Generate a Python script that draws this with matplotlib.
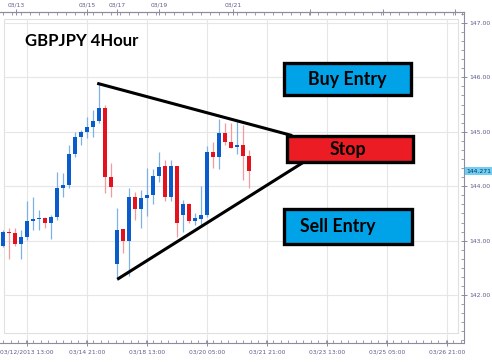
import matplotlib
matplotlib.use('Agg')
import matplotlib.pyplot as plt
from matplotlib.patches import Rectangle
from matplotlib.ticker import FixedLocator, MultipleLocator, AutoMinorLocator
import matplotlib.transforms as mtransforms

# GBPJPY 4-hour candles
opens = [142.90, 143.16, 143.14, 142.94, 143.07, 143.37, 143.39, 143.42, 143.33, 143.43,
         143.97, 144.02, 144.59, 144.91, 144.99, 145.09, 145.19, 145.43, 144.17, 142.58,
         143.21, 143.00, 143.81, 143.58, 143.79, 143.83, 144.19, 144.37, 143.80, 144.37,
         143.47, 143.67, 143.37, 143.40, 143.48, 144.63, 144.54, 144.98, 144.82, 144.72,
         144.76, 144.56]
highs = [143.20, 143.23, 143.23, 143.20, 143.73, 143.80, 143.56, 143.44, 143.47, 144.27,
         144.24, 144.76, 145.00, 145.03, 145.28, 145.40, 145.89, 145.49, 144.43, 143.60,
         143.21, 143.96, 143.90, 143.93, 144.33, 144.31, 144.62, 144.49, 144.49, 144.37,
         143.75, 143.70, 143.50, 144.00, 144.73, 144.82, 145.23, 145.17, 145.17, 145.19,
         145.13, 144.67]
lows = [142.88, 142.66, 142.90, 142.66, 143.01, 143.20, 143.20, 143.24, 143.03, 143.38,
        143.81, 143.97, 144.54, 144.76, 144.89, 144.91, 145.16, 143.88, 143.80, 142.28,
        142.77, 142.35, 143.38, 143.23, 143.45, 143.67, 144.08, 143.72, 143.72, 143.07,
        143.16, 143.32, 143.29, 143.26, 143.44, 144.33, 144.31, 144.76, 144.70, 144.60,
        144.11, 143.96]
closes = [143.16, 143.14, 142.94, 143.07, 143.37, 143.40, 143.42, 143.33, 143.43, 143.97,
          144.02, 144.59, 144.91, 144.99, 145.09, 145.19, 145.43, 144.17, 143.99, 143.20,
          143.00, 143.81, 143.58, 143.79, 143.83, 144.19, 144.36, 143.81, 144.37, 143.32,
          143.67, 143.37, 143.41, 143.48, 144.63, 144.54, 144.97, 144.82, 144.71, 144.76,
          144.56, 144.271]
last_price = 144.271

# time axis labels (bar index positions)
bottom_ticks = [4, 14, 24, 34, 44, 54, 64, 74]
bottom_labels = ['03/12/2013 13:00', '03/14 21:00', '03/18 13:00', '03/20 05:00',
                 '03/21 21:00', '03/23 13:00', '03/25 05:00', '03/26 21:00']
top_ticks = [2.2, 14, 19, 26, 38.3, 51.2, 63.3, 75.3]
top_labels = ['03/13', '03/15', '03/17', '03/19', '03/21', '', '', '']
price_ticks = [142, 143, 144, 145, 146, 147]

# triangle trendlines
upper_x = [15.7, 48.2]
upper_y = [145.89, 144.93]
lower_x = [19.05, 50.5]
lower_y = [142.29, 144.47]

W, H = 492, 362
fig = plt.figure(figsize=(W / 100, H / 100), dpi=100)
fig.patch.set_facecolor('white')


def fx(px):
    return px / W


def fy(py):
    return 1 - py / H


ax = fig.add_axes([0, fy(343), fx(464), (343 - 12) / H])
ax.set_xlim(-0.5, 76.83)
ax.set_ylim(141.12, 147.20)

axis_col = '#8c8ca0'
lab_col = '#5c5c8c'
for s in ['top', 'bottom', 'right']:
    ax.spines[s].set_color(axis_col)
    ax.spines[s].set_linewidth(0.8)
ax.spines['left'].set_visible(False)

# inner frame and grid
ax.add_patch(Rectangle((4 / 464, 0.030), (458 - 4) / 464, 0.979 - 0.030,
                       transform=ax.transAxes, fill=False, edgecolor='#e0e0e0',
                       linewidth=0.8, zorder=0))
ax.hlines(price_ticks, 0.17, 75.83, color='#e6e6e6', linewidth=0.8, zorder=0)
ax.vlines(bottom_ticks, 141.12, 147.2 - 7 / 54.4, color='#e6e6e6', linewidth=0.8, zorder=0)

# candles
up_body, up_wick = '#0a5ccc', '#7fb0e6'
dn_body, dn_wick = '#e4121c', '#f29a9e'
for i in range(len(opens)):
    o, h, l, c = opens[i], highs[i], lows[i], closes[i]
    up = c >= o
    ax.vlines(i, l, h, color=up_wick if up else dn_wick, linewidth=0.9, zorder=2)
    ax.bar(i, max(abs(c - o), 0.02), bottom=min(o, c), width=0.62,
           color=up_body if up else dn_body, linewidth=0, zorder=3)

# trendlines
ax.plot(upper_x, upper_y, color='black', linewidth=2.2, solid_capstyle='butt', zorder=4)
ax.plot(lower_x, lower_y, color='black', linewidth=2.2, solid_capstyle='butt', zorder=4)

# right price axis
ax.yaxis.tick_right()
ax.yaxis.set_major_locator(FixedLocator(price_ticks))
ax.yaxis.set_minor_locator(AutoMinorLocator(6))
ax.set_yticklabels(['%.2f' % p for p in price_ticks])
ax.tick_params(axis='y', which='major', direction='inout', length=5, width=0.7,
               color=axis_col, labelsize=4.4, labelcolor=lab_col, pad=1)
ax.tick_params(axis='y', which='minor', direction='in', length=2.5, width=0.6, color=axis_col)

# bottom time axis
ax.set_xticks(bottom_ticks)
ax.set_xticklabels(bottom_labels)
ax.xaxis.set_minor_locator(MultipleLocator(1.25))
ax.tick_params(axis='x', which='major', direction='inout', length=5, width=0.7,
               color=axis_col, labelsize=4.3, labelcolor=lab_col, pad=2)
ax.tick_params(axis='x', which='minor', direction='in', length=2.5, width=0.6, color=axis_col)

# top date axis
top = ax.twiny()
top.set_xlim(ax.get_xlim())
top.set_xticks(top_ticks)
top.set_xticklabels(top_labels)
top.xaxis.set_minor_locator(MultipleLocator(1.5))
top.tick_params(axis='x', which='major', direction='inout', length=5, width=0.7,
                color=axis_col, labelsize=4.3, labelcolor=lab_col, pad=1)
top.tick_params(axis='x', which='minor', direction='in', length=2.5, width=0.6, color=axis_col)
for s in ['left', 'right', 'bottom']:
    top.spines[s].set_visible(False)
top.spines['top'].set_color(axis_col)

# last price marker
trans = mtransforms.blended_transform_factory(ax.transAxes, ax.transData)
ax.text(1.006, last_price, '%.3f' % last_price, transform=trans, fontsize=4.4,
        color='#1a2a4a', va='center', ha='left',
        bbox=dict(boxstyle='square,pad=0.25', facecolor='#6dcff6', edgecolor='none'))

# title
fig.text(fx(25), fy(41), 'GBPJPY 4Hour', fontsize=12, fontweight='bold',
         family='Lato', va='center', ha='left', color='black')


def label_box(x0, y0, x1, y1, color, text, tx):
    fig.patches.append(Rectangle((fx(x0), fy(y1)), fx(x1 - x0), (y1 - y0) / H,
                                 transform=fig.transFigure, facecolor=color,
                                 edgecolor='black', linewidth=2.4, zorder=5))
    fig.text(fx(tx), fy((y0 + y1) / 2), text, fontsize=12.8, fontweight='bold',
             family='Lato', ha='center', va='center', color='black', zorder=6)


label_box(284, 63, 411, 95, '#00a2e8', 'Buy Entry', 347)
label_box(287, 136, 413, 162, '#ec1c24', 'Stop', 348)
label_box(284, 209, 412, 244, '#00a2e8', 'Sell Entry', 338)

fig.savefig('out.png', dpi=100, facecolor='white')
